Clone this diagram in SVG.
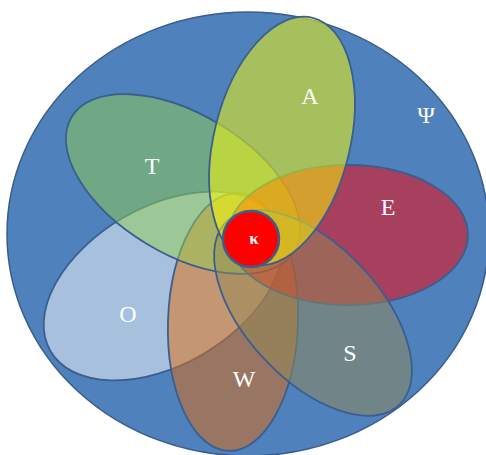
<svg xmlns="http://www.w3.org/2000/svg" width="486" height="455" viewBox="0 0 486 455">
<style>
  .petal { fill-opacity: 0.5; stroke: #3A5F8E; stroke-width: 1.8; }
  .lbl { font-family: "Liberation Serif", "Times New Roman", serif; font-size: 24px; fill: #FFFFFF; text-anchor: middle; }
</style>
<rect width="486" height="455" fill="#FFFFFF"/>
<g id="psi">
  <ellipse cx="248" cy="234" rx="241" ry="222" fill="#4F81BD" stroke="#385D8A" stroke-width="1.5"/>
  <text class="lbl" x="426" y="123">Ψ</text>
</g>
<g id="node-O">
  <ellipse class="petal" cx="163" cy="286" rx="130" ry="79" transform="rotate(-30 163 286)" fill="#FFFFFF"/>
  <text class="lbl" x="128" y="322">O</text>
</g>
<g id="node-W">
  <ellipse class="petal" cx="233" cy="322" rx="65" ry="129" transform="rotate(2 233 322)" fill="#E46C0A"/>
  <text class="lbl" x="244" y="387">W</text>
</g>
<g id="node-T">
  <ellipse class="petal" cx="183" cy="184" rx="130" ry="70" transform="rotate(31 183 184)" fill="#92D050"/>
  <text class="lbl" x="152" y="174">T</text>
</g>
<g id="node-E">
  <ellipse class="petal" cx="348" cy="235" rx="120" ry="70" fill="#FF0000"/>
  <text class="lbl" x="388" y="215">E</text>
</g>
<g id="node-S">
  <ellipse class="petal" cx="313" cy="313" rx="126" ry="67" transform="rotate(47 313 313)" fill="#948A54"/>
  <text class="lbl" x="350" y="361">S</text>
</g>
<g id="node-A">
  <ellipse class="petal" cx="282" cy="141" rx="68" ry="127" transform="rotate(14 282 141)" fill="#FFFF00"/>
  <text class="lbl" x="310" y="104">A</text>
</g>
<g id="node-kappa">
  <circle cx="251" cy="239" r="28" fill="#FF0000" stroke="#3A5F8E" stroke-width="2.5"/>
  <text x="254" y="244" font-family="Liberation Serif, Times New Roman, serif" font-size="17" font-weight="bold" fill="#FFFFFF" text-anchor="middle">κ</text>
</g>
</svg>
